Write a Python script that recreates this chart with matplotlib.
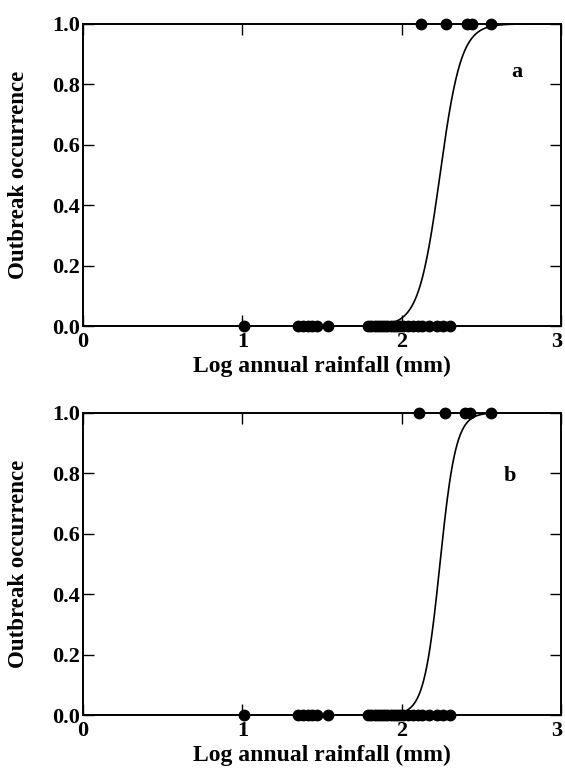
import numpy as np
import matplotlib.pyplot as plt
from matplotlib.transforms import ScaledTranslation

# outbreak absent (0) / present (1) observations, log10 annual rainfall
absent_x = [1.01, 1.35, 1.38, 1.41, 1.44, 1.47, 1.54,
            1.79, 1.81, 1.83, 1.85, 1.87, 1.89, 1.91, 1.93, 1.95, 1.97, 1.99,
            2.01, 2.04, 2.07, 2.10, 2.13, 2.17, 2.22, 2.26, 2.30]
present_x_a = [2.12, 2.28, 2.41, 2.44, 2.56]
present_x_b = [2.11, 2.27, 2.40, 2.43, 2.56]

# fitted logistic curves: midpoint and slope
midpoint = {"a": 2.24, "b": 2.24}
slope = {"a": 15.0, "b": 20.0}

x_ticks = [0, 1, 2, 3]
y_ticks = [0.0, 0.2, 0.4, 0.6, 0.8, 1.0]

plt.rcParams['font.family'] = ['Liberation Serif', 'DejaVu Serif']
plt.rcParams['font.weight'] = 'bold'

fig = plt.figure(figsize=(5.65, 7.71), dpi=100)
ax_a = fig.add_axes([0.147, 0.577, 0.846, 0.392])
ax_b = fig.add_axes([0.147, 0.0726, 0.846, 0.392])

xx = np.linspace(0, 3, 600)
for ax, key, present_x, lab_pos in [(ax_a, "a", present_x_a, (2.72, 0.84)),
                                    (ax_b, "b", present_x_b, (2.68, 0.79))]:
    yy = 1.0 / (1.0 + np.exp(-slope[key] * (xx - midpoint[key])))
    ax.plot(xx, yy, color='black', lw=1.2)
    ax.plot(absent_x, np.zeros(len(absent_x)), 'o', color='black', ms=7.5, clip_on=False, zorder=5)
    ax.plot(present_x, np.ones(len(present_x)), 'o', color='black', ms=7.5, clip_on=False, zorder=5)
    ax.set_xlim(0, 3)
    ax.set_ylim(0, 1)
    ax.set_xticks(x_ticks)
    ax.set_yticks(y_ticks)
    ax.set_xticklabels([str(t) for t in x_ticks])
    ax.set_yticklabels([f"{t:.1f}" for t in y_ticks])
    ax.tick_params(direction='in', length=8, width=1, top=True, right=True,
                   labelsize=16, pad=2)
    ax.tick_params(axis='x', pad=4)
    # last x label sits right on the figure edge, nudge it in a bit
    last = ax.get_xticklabels()[-1]
    last.set_transform(last.get_transform() + ScaledTranslation(-3 / 72, 0, fig.dpi_scale_trans))
    for sp in ax.spines.values():
        sp.set_linewidth(1.4)
    ax.set_xlabel("Log annual rainfall (mm)", fontsize=17, fontweight='bold', labelpad=3)
    ax.set_ylabel("Outbreak occurrence", fontsize=16.5, fontweight='bold')
    ax.yaxis.set_label_coords(-0.113, 0.5)
    ax.text(lab_pos[0], lab_pos[1], key, fontsize=16, fontweight='bold', ha='center', va='center')

fig.savefig("out.png", dpi=100)
